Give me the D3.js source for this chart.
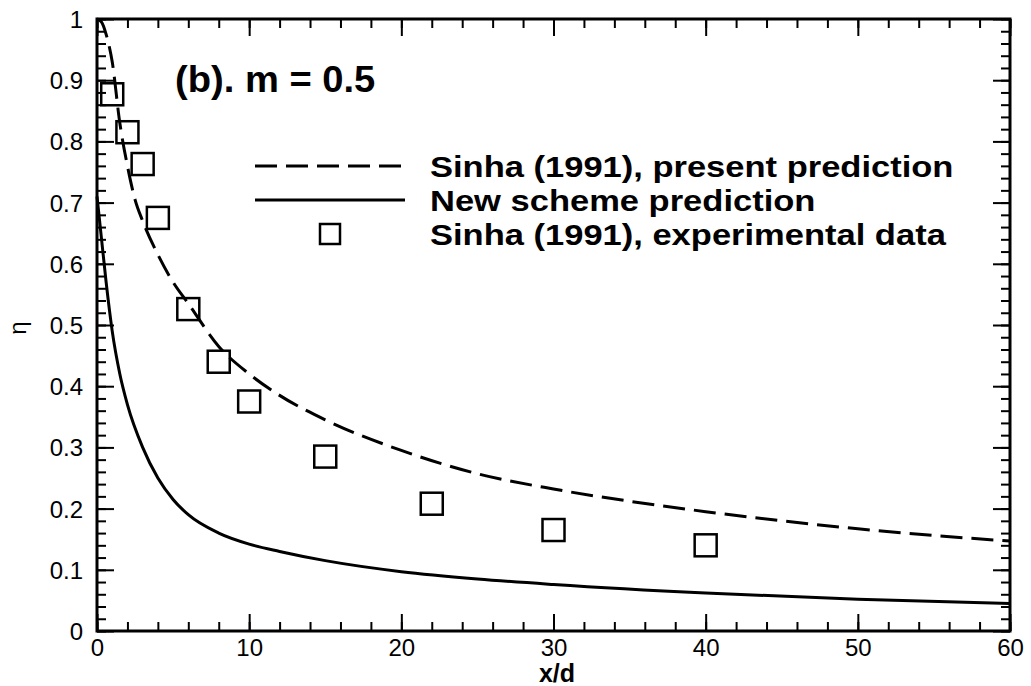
<!DOCTYPE html>
<html>
<head>
<meta charset="utf-8">
<script src="https://cdn.jsdelivr.net/npm/d3@7"></script>
<style>
  body { margin: 0; background: #fff; }
  text { font-family: "Liberation Sans", Arial, sans-serif; fill: #000; }
</style>
</head>
<body>
<svg id="chart" width="1031" height="686"></svg>
<script>
// Sinha (1991), present prediction (dashed)
const predX = [0, 0.3, 0.6, 1, 1.5, 2, 2.5, 3, 4, 5, 6, 8, 10, 12, 15, 20, 25, 30, 35, 40, 45, 50, 55, 60];
const predY = [1.0, 0.995, 0.975, 0.93, 0.83, 0.76, 0.705, 0.67, 0.615, 0.57, 0.535, 0.465, 0.42, 0.385, 0.345, 0.295, 0.257, 0.232, 0.212, 0.195, 0.18, 0.167, 0.156, 0.147];

// New scheme prediction (solid)
const newX = [0, 0.3, 0.6, 1, 1.5, 2, 3, 4, 5, 6, 8, 10, 12, 15, 20, 25, 30, 40, 50, 60];
const newY = [0.71, 0.64, 0.57, 0.49, 0.42, 0.37, 0.3, 0.25, 0.215, 0.19, 0.16, 0.142, 0.13, 0.115, 0.097, 0.085, 0.076, 0.062, 0.052, 0.045];

// Sinha (1991), experimental data (squares)
const expX = [1, 2, 3, 4, 6, 8, 10, 15, 22, 30, 40];
const expY = [0.877, 0.815, 0.763, 0.675, 0.526, 0.44, 0.375, 0.285, 0.208, 0.165, 0.14];

const xMajor = [0, 10, 20, 30, 40, 50, 60];
const yMajor = [0, 0.1, 0.2, 0.3, 0.4, 0.5, 0.6, 0.7, 0.8, 0.9, 1];

const legendLabels = ["Sinha (1991), present prediction", "New scheme prediction", "Sinha (1991), experimental data"];

const margin = {top: 19, right: 21, bottom: 55, left: 97};
const width = 1031 - margin.left - margin.right;
const height = 686 - margin.top - margin.bottom;

const svg = d3.select('#chart');
const main = svg.append('g').attr('transform', `translate(${margin.left},${margin.top})`);

const x = d3.scaleLinear().domain([0, 60]).range([0, width]);
const y = d3.scaleLinear().domain([0, 1]).range([height, 0]);

const xMinor = d3.range(0, 60.001, 2);
const yMinor = d3.range(0, 1.0001, 0.02);

// ticks pointing inward on all four sides
function addAxis(axisFn, scale, values, size, transform, fmt) {
  const ax = axisFn(scale).tickValues(values).tickSize(size).tickSizeOuter(0);
  ax.tickFormat(fmt || '');
  const g = main.append('g').attr('transform', transform).call(ax);
  g.select('.domain').remove();
  g.selectAll('.tick line').attr('stroke', '#000').attr('stroke-width', 2);
  return g;
}

addAxis(d3.axisBottom, x, xMinor, -9, `translate(0,${height})`);
addAxis(d3.axisTop, x, xMinor, -9, 'translate(0,0)');
addAxis(d3.axisLeft, y, yMinor, -9, 'translate(0,0)');
addAxis(d3.axisRight, y, yMinor, -9, `translate(${width},0)`);

const gx = addAxis(d3.axisBottom, x, xMajor, -17, `translate(0,${height})`, d3.format('d'));
addAxis(d3.axisTop, x, xMajor, -17, 'translate(0,0)');
const gy = addAxis(d3.axisLeft, y, yMajor, -17, 'translate(0,0)', d => d === 0 || d === 1 ? d3.format('d')(d) : d3.format('.1f')(d));
addAxis(d3.axisRight, y, yMajor, -17, `translate(${width},0)`);

gx.selectAll('.tick text').attr('y', 8).attr('dy', '0.71em').style('font-size', '24px');
gy.selectAll('.tick text').attr('x', -14).attr('dy', '0.35em').style('font-size', '24px');

// frame
main.append('rect')
  .attr('width', width).attr('height', height)
  .attr('fill', 'none').attr('stroke', '#000').attr('stroke-width', 3);

const line = d3.line().x(d => x(d[0])).y(d => y(d[1])).curve(d3.curveMonotoneX);

main.append('path')
  .datum(d3.zip(predX, predY))
  .attr('fill', 'none').attr('stroke', '#000').attr('stroke-width', 3)
  .attr('stroke-dasharray', '22,9')
  .attr('d', line);

main.append('path')
  .datum(d3.zip(newX, newY))
  .attr('fill', 'none').attr('stroke', '#000').attr('stroke-width', 3)
  .attr('d', line);

const sq = 22;
main.selectAll('rect.pt')
  .data(d3.zip(expX, expY))
  .enter().append('rect')
  .attr('class', 'pt')
  .attr('x', d => x(d[0]) - sq / 2)
  .attr('y', d => y(d[1]) - sq / 2)
  .attr('width', sq).attr('height', sq)
  .attr('fill', 'none').attr('stroke', '#000').attr('stroke-width', 2.5);

// title (the original typeface runs a little wider than Liberation Sans)
svg.append('text')
  .attr('transform', 'translate(175,92) scale(1.06,1)')
  .style('font-size', '36px').style('font-weight', 'bold')
  .text('(b). m = 0.5');

// legend
const legY = [166, 200, 234];
svg.append('line')
  .attr('x1', 255).attr('x2', 405).attr('y1', legY[0]).attr('y2', legY[0])
  .attr('stroke', '#000').attr('stroke-width', 3).attr('stroke-dasharray', '22,9');
svg.append('line')
  .attr('x1', 255).attr('x2', 405).attr('y1', legY[1]).attr('y2', legY[1])
  .attr('stroke', '#000').attr('stroke-width', 3);
svg.append('rect')
  .attr('x', 320).attr('y', legY[2] - 10).attr('width', 20).attr('height', 20)
  .attr('fill', 'none').attr('stroke', '#000').attr('stroke-width', 2.5);

svg.selectAll('text.leg')
  .data(legendLabels)
  .enter().append('text')
  .attr('class', 'leg')
  .attr('transform', (d, i) => `translate(430,${legY[i]}) scale(1.17,1)`)
  .attr('dy', '0.36em')
  .style('font-size', '29.5px').style('font-weight', 'bold')
  .text(d => d);

// axis titles
svg.append('text')
  .attr('x', 557).attr('y', 682)
  .attr('text-anchor', 'middle')
  .style('font-size', '25px').style('font-weight', 'bold')
  .text('x/d');

svg.append('text')
  .attr('transform', 'translate(26,328) rotate(-90)')
  .attr('text-anchor', 'middle')
  .style('font-size', '24px')
  .text('η');
</script>
</body>
</html>
